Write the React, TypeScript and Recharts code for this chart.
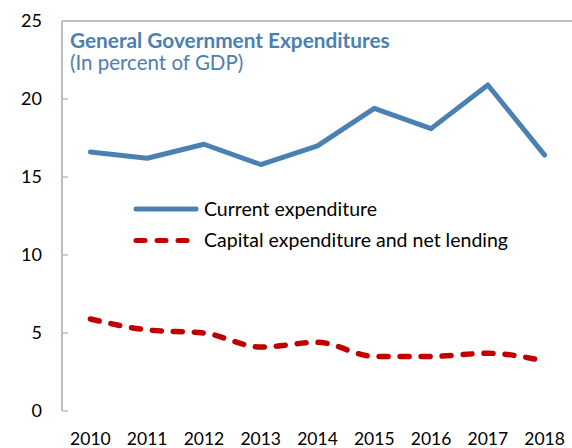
import { LineChart, Line, XAxis, YAxis, ReferenceLine } from "recharts";

const years = ["2010", "2011", "2012", "2013", "2014", "2015", "2016", "2017", "2018"];
const currentExp = [16.6, 16.2, 17.1, 15.8, 17.0, 19.4, 18.1, 20.9, 16.4];
const capitalExp = [5.9, 5.2, 5.0, 4.1, 4.4, 3.5, 3.5, 3.7, 3.2];
const yTicks = [0, 5, 10, 15, 20, 25];

const BLUE = "#4b80b2";
const RED = "#c00000";
const GRAY = "#bfbfbf";
const FONT = "Lato, 'Noto Sans', sans-serif";

const data = years.map((y, i) => ({ i, year: y, current: currentExp[i], capital: capitalExp[i] }));
const xTicks = years.map((_, i) => i);
const bandTicks = years.slice(1).map((_, i) => i + 0.5);

const legendItems = [
    { label: "Current expenditure", color: BLUE, dash: undefined as string | undefined },
    { label: "Capital expenditure and net lending", color: RED, dash: "9 12" },
];

function LegendBox() {
    return (
        <svg width={430} height={60} style={{ position: "absolute", left: 132, top: 198 }}>
            {legendItems.map((it, k) => (
                <g key={it.label} transform={`translate(0, ${11 + k * 31.5})`}>
                    <line x1={4} x2={64} y1={0} y2={0} stroke={it.color} strokeWidth={5} strokeLinecap="round" strokeDasharray={it.dash} />
                    <text x={72} y={0} dy="0.35em" fontSize={19.5} fontFamily={FONT} fill="#000">
                        {it.label}
                    </text>
                </g>
            ))}
        </svg>
    );
}

export default function App() {
    return (
        <div style={{ position: "absolute", left: 0, top: 0, width: 572, height: 448, overflow: "hidden", background: "#fff" }}>
            <LineChart width={574} height={448} data={data} margin={{ top: 21, right: 1, bottom: 0, left: 0 }}>
                <XAxis
                    xAxisId="band"
                    dataKey="i"
                    type="number"
                    domain={[-0.5, 8.5]}
                    ticks={bandTicks}
                    tick={false}
                    height={0}
                    tickSize={-6}
                    axisLine={{ stroke: GRAY, strokeWidth: 2 }}
                    tickLine={{ stroke: GRAY, strokeWidth: 1.5 }}
                />
                <XAxis
                    xAxisId="x"
                    dataKey="i"
                    type="number"
                    domain={[-0.5, 8.5]}
                    ticks={xTicks}
                    interval={0}
                    tickFormatter={(v) => years[v]}
                    height={37}
                    axisLine={false}
                    tickLine={false}
                    tickMargin={16}
                    tick={{ fontSize: 17.5, fontFamily: FONT, fill: "#000" }}
                />
                <YAxis
                    domain={[0, 25]}
                    ticks={yTicks}
                    width={62}
                    tickSize={-6}
                    tickMargin={26}
                    axisLine={{ stroke: GRAY, strokeWidth: 2 }}
                    tickLine={{ stroke: GRAY, strokeWidth: 1.5 }}
                    tick={{ fontSize: 18, fontFamily: FONT, fill: "#000" }}
                />
                <ReferenceLine xAxisId="x" y={25} stroke={GRAY} strokeWidth={2} />
                <Line
                    xAxisId="x"
                    type="linear"
                    dataKey="current"
                    stroke={BLUE}
                    strokeWidth={5}
                    strokeLinecap="round"
                    strokeLinejoin="round"
                    dot={false}
                    isAnimationActive={false}
                />
                <Line
                    xAxisId="x"
                    type="monotone"
                    dataKey="capital"
                    stroke={RED}
                    strokeWidth={5.5}
                    strokeDasharray="9 12"
                    strokeLinecap="round"
                    dot={false}
                    isAnimationActive={false}
                />
            </LineChart>
            <LegendBox />
            <div style={{ position: "absolute", left: 70, top: 29, fontFamily: FONT, color: BLUE, lineHeight: "22px" }}>
                <div style={{ fontWeight: 700, fontSize: 20.8 }}>General Government Expenditures</div>
                <div style={{ fontSize: 20.5 }}>(In percent of GDP)</div>
            </div>
        </div>
    );
}
